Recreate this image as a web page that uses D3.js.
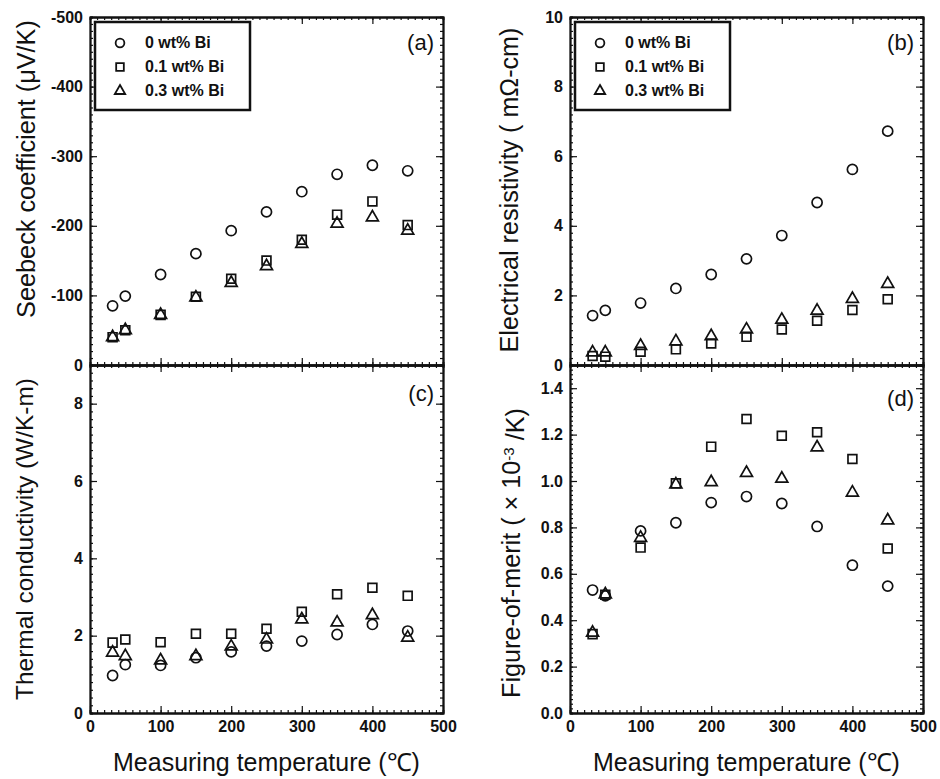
<!DOCTYPE html>
<html>
<head>
<meta charset="utf-8">
<script src="https://cdn.jsdelivr.net/npm/d3@7"></script>
<style>
  body { margin: 0; background: #fff; }
  svg { font-family: Arial, "Liberation Sans", sans-serif; }
  .tick text { font-size: 16px; font-weight: bold; fill: #111; }
  .domain { stroke: #111; stroke-width: 1.8; }
  .tick line { stroke: #111; stroke-width: 1.2; }
</style>
</head>
<body>
<svg id="chart" width="940" height="779"></svg>
<script>
// measuring temperatures (C)
let temps = [32, 50, 100, 150, 200, 250, 300, 350, 400, 450];
let series = ["0 wt% Bi", "0.1 wt% Bi", "0.3 wt% Bi"];

// (a) seebeck coefficient, uV/K
let seebeck0  = [-85, -99, -130, -160, -193, -220, -249, -274, -287, -279];
let seebeck01 = [-40, -50, -72, -98, -124, -150, -180, -216, -235, -201];
let seebeck03 = [-40, -50, -72, -97, -118, -142, -174, -203, -212, -193];

// (b) electrical resistivity, mOhm-cm
let resist0  = [1.42, 1.57, 1.78, 2.2, 2.6, 3.05, 3.72, 4.67, 5.62, 6.72];
let resist01 = [0.26, 0.24, 0.38, 0.45, 0.62, 0.81, 1.02, 1.27, 1.58, 1.89];
let resist03 = [0.36, 0.36, 0.55, 0.68, 0.83, 1.02, 1.3, 1.56, 1.9, 2.33];

// (c) thermal conductivity, W/K-m
let thermal0  = [0.97, 1.25, 1.23, 1.43, 1.58, 1.73, 1.86, 2.03, 2.29, 2.12];
let thermal01 = [1.82, 1.9, 1.83, 2.05, 2.05, 2.18, 2.62, 3.07, 3.24, 3.03];
let thermal03 = [1.56, 1.47, 1.36, 1.47, 1.72, 1.9, 2.42, 2.34, 2.53, 1.95];

// (d) figure of merit, 1e-3/K
let merit0  = [0.53, 0.505, 0.785, 0.82, 0.907, 0.933, 0.903, 0.804, 0.637, 0.547];
let merit01 = [0.34, 0.51, 0.713, 0.99, 1.148, 1.267, 1.195, 1.21, 1.095, 0.709];
let merit03 = [0.346, 0.511, 0.755, 0.985, 0.995, 1.035, 1.01, 1.145, 0.95, 0.83];

let xTicks = [0, 100, 200, 300, 400, 500];

let svg = d3.select("#chart");
svg.append("rect").attr("width", 940).attr("height", 779).attr("fill", "#fff");

let shapes = [d3.symbolCircle, d3.symbolSquare, d3.symbolTriangle];
let shapeSizes = [80, 78, 62];

function minorTicks(domain, step) {
    let lo = Math.min(domain[0], domain[1]), hi = Math.max(domain[0], domain[1]);
    let out = [];
    for (let v = lo; v <= hi + 1e-9; v += step) out.push(+v.toFixed(6));
    return out;
}

// shrink/grow a title so it covers about the same length as in the scan
function fitText(t, size, target) {
    t.attr("font-size", size);
    let len = t.node().getComputedTextLength();
    if (len > 0) t.attr("font-size", size * target / len);
}

// plain hyphen like the original, not the unicode minus
let hyphenInt = function (d) { return String(d); };

function drawPanel(p) {
    let x = d3.scaleLinear().domain([0, 500]).range([p.left, p.right]);
    let y = d3.scaleLinear().domain(p.yDomain).range([p.bottom, p.top]);
    let g = svg.append("g");

    let xMinor = minorTicks([0, 500], 10);
    let yMinor = minorTicks(p.yDomain, p.yMinorStep);

    // minor ticks on all four sides
    g.append("g").attr("transform", "translate(0," + p.bottom + ")")
        .call(d3.axisBottom(x).tickValues(xMinor).tickSize(-3).tickFormat(""));
    g.append("g").attr("transform", "translate(0," + p.top + ")")
        .call(d3.axisTop(x).tickValues(xMinor).tickSize(-3).tickFormat(""));
    g.append("g").attr("transform", "translate(" + p.left + ",0)")
        .call(d3.axisLeft(y).tickValues(yMinor).tickSize(-3).tickFormat(""));
    g.append("g").attr("transform", "translate(" + p.right + ",0)")
        .call(d3.axisRight(y).tickValues(yMinor).tickSize(-3).tickFormat(""));

    // major ticks
    let xb = d3.axisBottom(x).tickValues(xTicks).tickSize(-7).tickSizeOuter(0).tickPadding(8);
    if (!p.xLabels) xb.tickFormat("");
    g.append("g").attr("transform", "translate(0," + p.bottom + ")").call(xb);
    g.append("g").attr("transform", "translate(0," + p.top + ")")
        .call(d3.axisTop(x).tickValues(xTicks).tickSize(-7).tickSizeOuter(0).tickFormat(""));
    g.append("g").attr("transform", "translate(" + p.left + ",0)")
        .call(d3.axisLeft(y).tickValues(p.yTicks).tickSize(-7).tickSizeOuter(0)
            .tickPadding(7).tickFormat(p.yFormat));
    g.append("g").attr("transform", "translate(" + p.right + ",0)")
        .call(d3.axisRight(y).tickValues(p.yTicks).tickSize(-7).tickSizeOuter(0).tickFormat(""));

    // markers
    p.data.forEach(function (vals, i) {
        let sym = d3.symbol().type(shapes[i]).size(shapeSizes[i]);
        g.selectAll(null)
            .data(vals)
            .enter()
            .append("path")
            .attr("d", sym)
            .attr("transform", function (d, j) {
                return "translate(" + x(temps[j]) + "," + y(d) + ")";
            })
            .attr("fill", "none")
            .attr("stroke", "#111")
            .attr("stroke-width", 1.7);
    });

    // panel letter
    g.append("text")
        .attr("x", p.right - 9)
        .attr("y", p.top + p.letterDy)
        .attr("text-anchor", "end")
        .attr("font-size", 22)
        .attr("fill", "#111")
        .text(p.letter);

    // y title
    let yt = g.append("text")
        .attr("transform", "translate(" + p.titleX + "," + p.titleY + ") rotate(-90)")
        .attr("text-anchor", "middle")
        .attr("fill", "#111");
    p.title(yt);
    fitText(yt, 22, p.titleLen);

    if (p.xLabels) {
        let xt = g.append("text")
            .attr("x", (p.left + p.right) / 2)
            .attr("y", 771)
            .attr("text-anchor", "middle")
            .attr("fill", "#111")
            .text("Measuring temperature (\u2103)");
        fitText(xt, 24, 307);
    }

    if (p.legend) {
        let lx = p.left + 5, ly = p.top + 5;
        g.append("rect")
            .attr("x", lx).attr("y", ly)
            .attr("width", 155).attr("height", 88)
            .attr("fill", "#fff")
            .attr("stroke", "#111")
            .attr("stroke-width", 2.5);
        series.forEach(function (name, i) {
            let ry = ly + 21 + i * 24;
            g.append("path")
                .attr("d", d3.symbol().type(shapes[i]).size(shapeSizes[i] * 0.75)())
                .attr("transform", "translate(" + (lx + 25) + "," + ry + ")")
                .attr("fill", "none")
                .attr("stroke", "#111")
                .attr("stroke-width", 1.8);
            let lt = g.append("text")
                .attr("x", lx + 50)
                .attr("y", ry + 5)
                .attr("font-weight", "bold")
                .attr("fill", "#111")
                .text(name);
            lt.attr("font-size", 16);
        });
    }
}

drawPanel({
    left: 90, right: 443, top: 17, bottom: 365,
    yDomain: [0, -500], yTicks: [0, -100, -200, -300, -400, -500], yMinorStep: 10,
    yFormat: hyphenInt,
    data: [seebeck0, seebeck01, seebeck03],
    letter: "(a)", letterDy: 33, legend: true, xLabels: false,
    titleX: 35, titleY: 169, titleLen: 298,
    title: function (t) { t.text("Seebeck coefficient (\u03bcV/K)"); }
});

drawPanel({
    left: 570, right: 923, top: 17, bottom: 365,
    yDomain: [0, 10], yTicks: [0, 2, 4, 6, 8, 10], yMinorStep: 0.2,
    yFormat: hyphenInt,
    data: [resist0, resist01, resist03],
    letter: "(b)", letterDy: 33, legend: true, xLabels: false,
    titleX: 518, titleY: 190, titleLen: 325,
    title: function (t) { t.text("Electrical resistivity ( m\u03a9-cm)"); }
});

drawPanel({
    left: 90, right: 443, top: 365, bottom: 713,
    yDomain: [0, 9], yTicks: [0, 2, 4, 6, 8], yMinorStep: 0.2,
    yFormat: hyphenInt,
    data: [thermal0, thermal01, thermal03],
    letter: "(c)", letterDy: 36, legend: false, xLabels: true,
    titleX: 33, titleY: 539, titleLen: 322,
    title: function (t) { t.text("Thermal conductivity (W/K-m)"); }
});

drawPanel({
    left: 570, right: 923, top: 365, bottom: 713,
    yDomain: [0, 1.5], yTicks: [0, 0.2, 0.4, 0.6, 0.8, 1.0, 1.2, 1.4], yMinorStep: 0.02,
    yFormat: d3.format(".1f"),
    data: [merit0, merit01, merit03],
    letter: "(d)", letterDy: 41, legend: false, xLabels: true,
    titleX: 520, titleY: 553, titleLen: 290,
    title: function (t) {
        t.append("tspan").text("Figure-of-merit ( \u00d7 10");
        t.append("tspan").attr("dy", "-0.4em").attr("font-size", "60%").text("-3");
        t.append("tspan").attr("dy", "0.4em").text(" /K)");
    }
});
</script>
</body>
</html>
